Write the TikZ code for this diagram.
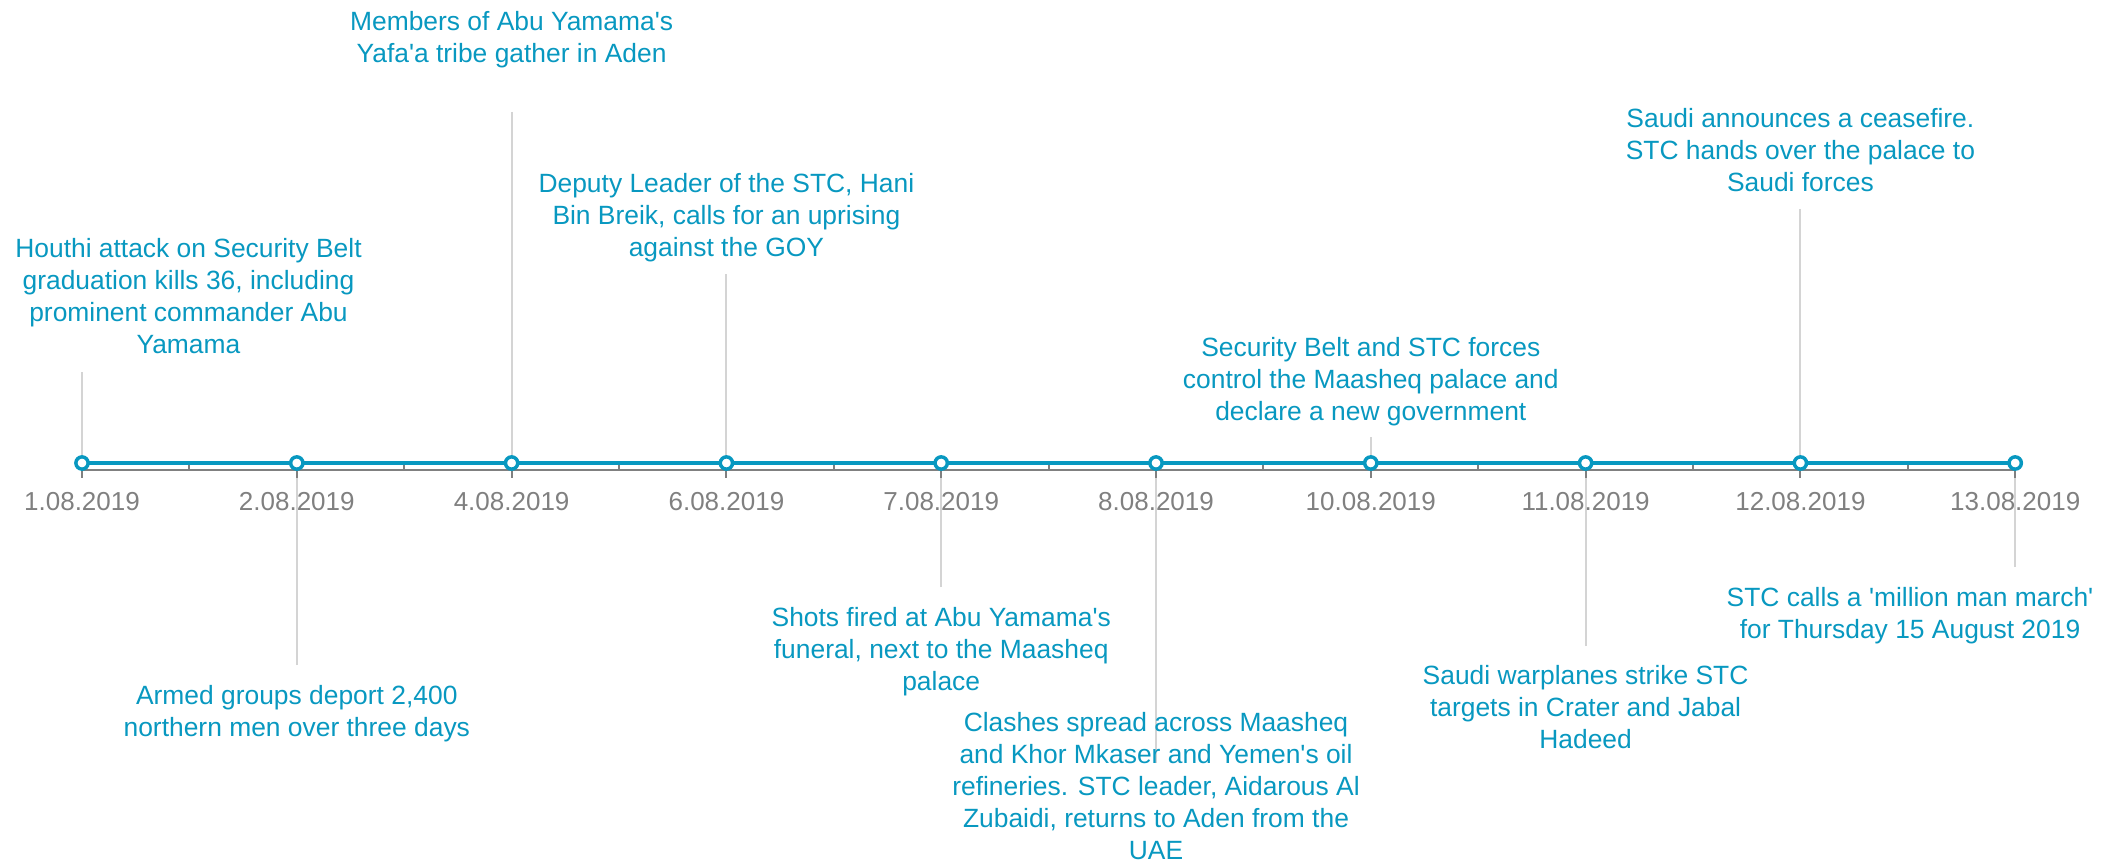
\documentclass[tikz,border=0pt]{standalone}
\usepackage{fontspec}
\setmainfont{Liberation Sans}[Ligatures=TeXOff]
\usetikzlibrary{calc}
\definecolor{tealc}{RGB}{8,152,192}
\definecolor{axgrey}{RGB}{128,128,128}
\definecolor{lgrey}{RGB}{212,212,212}
\begin{document}
\begin{tikzpicture}[x=0.75pt,y=-0.75pt,
  evlabel/.style={anchor=north,align=center,inner sep=0pt,text=tealc,
    font=\fontsize{19.8pt}{24pt}\selectfont},
  datelabel/.style={anchor=base,inner sep=0pt,text=axgrey,
    font=\fontsize{19.5pt}{24pt}\selectfont},
  dot/.style={circle,draw=tealc,fill=white,line width=2.6pt,minimum size=9.2pt,inner sep=0pt},
  conn/.style={draw=lgrey,line width=1.5pt},
  axisline/.style={draw=axgrey,line width=1.6pt},
  tealline/.style={draw=tealc,line width=2.7pt}]
\useasboundingbox (0,0) rectangle (2118,863);

% positions of the dates
\coordinate (q1) at (82,463);
\coordinate (q2) at (296.8,463);
\coordinate (q3) at (511.6,463);
\coordinate (q4) at (726.4,463);
\coordinate (q5) at (941.2,463);
\coordinate (q6) at (1156,463);
\coordinate (q7) at (1370.8,463);
\coordinate (q8) at (1585.6,463);
\coordinate (q9) at (1800.4,463);
\coordinate (q10) at (2015.2,463);

% connector free ends
\coordinate (c1) at (82,372);
\coordinate (c2) at (296.8,665);
\coordinate (c3) at (511.6,112);
\coordinate (c4) at (726.4,274);
\coordinate (c5) at (941.2,587);
\coordinate (c6) at (1156,763);
\coordinate (c7) at (1370.8,437);
\coordinate (c8) at (1585.6,646);
\coordinate (c9) at (1800.4,209);
\coordinate (c10) at (2015.2,567);

\foreach \i in {1,...,10} {\draw[conn] (c\i) -- (q\i);}

% grey axis with ticks
\draw[axisline] ([yshift=-6.8*0.75pt]q1) -- ([yshift=-6.8*0.75pt]q10);
\foreach \i in {1,...,10} {\draw[axisline] ([yshift=-6.8*0.75pt]q\i) -- ([yshift=-15*0.75pt]q\i);}
\foreach \i [evaluate=\i as \j using int(\i+1)] in {1,...,9}
  {\draw[axisline] ($([yshift=-6.8*0.75pt]q\i)!0.5!([yshift=-6.8*0.75pt]q\j)$) -- ($(q\i)!0.5!(q\j)$);}

% teal line and dots
\draw[tealline] (q1) -- (q10);
\foreach \i in {1,...,10} {\node[dot] (p\i) at (q\i) {};}

% dates
\node[datelabel] (dt1) at (82,510.5) {1.08.2019};
\node[datelabel] (dt2) at (296.8,510.5) {2.08.2019};
\node[datelabel] (dt3) at (511.6,510.5) {4.08.2019};
\node[datelabel] (dt4) at (726.4,510.5) {6.08.2019};
\node[datelabel] (dt5) at (941.2,510.5) {7.08.2019};
\node[datelabel] (dt6) at (1156,510.5) {8.08.2019};
\node[datelabel] (dt7) at (1370.8,510.5) {10.08.2019};
\node[datelabel] (dt8) at (1585.6,510.5) {11.08.2019};
\node[datelabel] (dt9) at (1800.4,510.5) {12.08.2019};
\node[datelabel] (dt10) at (2015.2,510.5) {13.08.2019};

% events
\node[evlabel] (ev1) at (188.5,235.2) {\strut Houthi attack on Security Belt\\graduation kills 36, including\\prominent commander Abu\\Yamama};
\node[evlabel] (ev2) at (296.8,682.2) {\strut Armed groups deport 2,400\\northern men over three days};
\node[evlabel] (ev3) at (511.6,7.9) {\strut Members of Abu Yamama's\\Yafa'a tribe gather in Aden};
\node[evlabel] (ev4) at (726.4,170.2) {\strut Deputy Leader of the STC, Hani\\Bin Breik, calls for an uprising\\against the GOY};
\node[evlabel] (ev5) at (941.2,604.2) {\strut Shots fired at Abu Yamama's\\funeral, next to the Maasheq\\palace};
\node[evlabel] (ev6) at (1156,709.2) {\strut Clashes spread across Maasheq\\and Khor Mkaser and Yemen's oil\\refineries. STC leader, Aidarous Al\\Zubaidi, returns to Aden from the\\UAE};
\node[evlabel] (ev7) at (1370.8,334.2) {\strut Security Belt and STC forces\\control the Maasheq palace and\\declare a new government};
\node[evlabel] (ev8) at (1585.6,662.2) {\strut Saudi warplanes strike STC\\targets in Crater and Jabal\\Hadeed};
\node[evlabel] (ev9) at (1800.4,105.2) {\strut Saudi announces a ceasefire.\\STC hands over the palace to\\Saudi forces};
\node[evlabel] (ev10) at (1910,584.2) {\strut STC calls a 'million man march'\\for Thursday 15 August 2019};
\end{tikzpicture}
\end{document}
